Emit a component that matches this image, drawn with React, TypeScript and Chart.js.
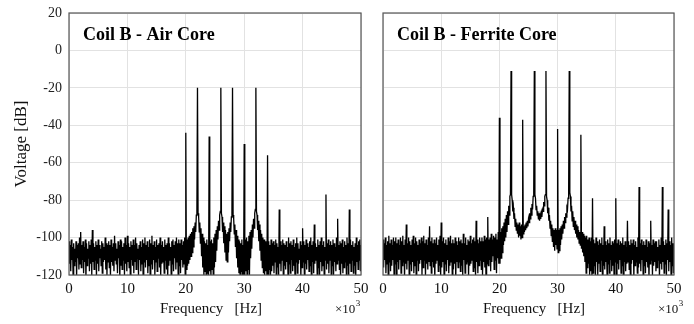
import React, { useEffect, useRef } from "react";
import { Chart, registerables } from "chart.js";

Chart.register(...registerables);

// ---- data -------------------------------------------------------------
// Spectrum samples every 0.1 kHz from 0 to 50 kHz (values in dB); one row = 1 kHz
const FREQ_START_KHZ = 0;
const FREQ_STEP_KHZ = 0.1;

const X_TICKS = [0, 10, 20, 30, 40, 50];
const Y_TICKS = [-120, -100, -80, -60, -40, -20, 0, 20];

const AIR_CORE_DB = [
  -102, -114, -104, -118, -101, -112, -105, -120, -103, -115, // 0
  -106, -113, -102, -121, -104, -111, -103, -117, -100, -114, // 1
  -97, -116, -104, -112, -102, -119, -105, -113, -101, -122, // 2
  -103, -115, -106, -111, -102, -118, -104, -114, -101, -120, // 3
  -96, -113, -103, -117, -105, -112, -102, -121, -104, -114, // 4
  -101, -118, -104, -111, -106, -115, -102, -119, -103, -113, // 5
  -105, -112, -100, -117, -103, -120, -104, -113, -102, -116, // 6
  -104, -121, -101, -113, -105, -115, -103, -118, -99, -112, // 7
  -103, -114, -106, -119, -102, -111, -104, -122, -101, -115, // 8
  -102, -117, -105, -112, -103, -120, -100, -114, -104, -118, // 9
  -99, -113, -103, -116, -105, -121, -102, -112, -104, -115, // 10
  -101, -119, -104, -113, -100, -117, -103, -111, -106, -120, // 11
  -104, -112, -102, -118, -105, -114, -101, -122, -103, -113, // 12
  -100, -116, -104, -112, -102, -119, -105, -115, -101, -121, // 13
  -103, -114, -99, -117, -104, -112, -102, -120, -105, -113, // 14
  -101, -118, -104, -111, -103, -116, -100, -121, -104, -114, // 15
  -102, -113, -105, -119, -101, -112, -104, -117, -103, -122, // 16
  -100, -115, -103, -112, -105, -120, -102, -114, -101, -118, // 17
  -104, -111, -102, -117, -100, -113, -103, -121, -101, -115, // 18
  -103, -119, -101, -112, -104, -116, -102, -114, -100, -120, // 19
  -44, -117, -101, -115, -100, -114, -99, -112, -98, -110, // 20
  -97, -108, -95, -105, -94, -101, -92, -97, -88, -86, // 21
  -20, -87, -89, -97, -92, -103, -95, -110, -98, -116, // 22
  -100, -120, -102, -118, -103, -122, -101, -119, -104, -121, // 23
  -46, -118, -102, -122, -101, -117, -103, -120, -100, -116, // 24
  -98, -113, -96, -107, -94, -101, -91, -96, -88, -86, // 25
  -20, -87, -89, -97, -92, -103, -94, -108, -96, -112, // 26
  -98, -113, -97, -108, -95, -102, -92, -97, -89, -87, // 27
  -20, -88, -90, -98, -93, -105, -96, -111, -99, -116, // 28
  -101, -119, -102, -122, -103, -118, -101, -123, -104, -120, // 29
  -50, -121, -101, -118, -100, -123, -102, -117, -99, -120, // 30
  -97, -111, -96, -106, -93, -100, -90, -95, -87, -85, // 31
  -20, -86, -88, -96, -91, -102, -93, -107, -96, -112, // 32
  -98, -116, -100, -119, -101, -121, -102, -118, -103, -122, // 33
  -56, -120, -102, -117, -104, -121, -101, -118, -103, -115, // 34
  -102, -119, -104, -113, -101, -122, -103, -116, -105, -120, // 35
  -85, -114, -102, -118, -104, -112, -101, -121, -103, -115, // 36
  -104, -117, -102, -113, -105, -120, -100, -114, -103, -119, // 37
  -102, -112, -104, -118, -101, -115, -105, -122, -103, -113, // 38
  -100, -119, -103, -114, -106, -112, -102, -121, -104, -116, // 39
  -95, -113, -102, -120, -104, -114, -101, -117, -103, -112, // 40
  -105, -118, -102, -115, -100, -121, -104, -113, -102, -119, // 41
  -93, -114, -103, -112, -105, -120, -101, -116, -104, -122, // 42
  -102, -113, -100, -118, -104, -115, -102, -121, -105, -112, // 43
  -77, -117, -103, -114, -101, -119, -104, -112, -102, -120, // 44
  -104, -115, -101, -121, -103, -113, -105, -118, -100, -114, // 45
  -90, -112, -104, -117, -102, -122, -103, -114, -101, -119, // 46
  -105, -116, -102, -113, -104, -120, -100, -115, -103, -121, // 47
  -85, -114, -101, -118, -104, -112, -102, -119, -105, -115, // 48
  -103, -121, -100, -113, -104, -117, -102, -112, -101, -118, // 49
  -104, // 50
];

const FERRITE_CORE_DB = [
  -101, -116, -103, -112, -100, -119, -104, -114, -102, -121, // 0
  -99, -113, -103, -118, -101, -115, -104, -112, -100, -120, // 1
  -102, -114, -100, -121, -103, -113, -101, -117, -104, -112, // 2
  -100, -119, -102, -115, -99, -113, -104, -122, -101, -114, // 3
  -93, -117, -103, -112, -100, -120, -102, -114, -104, -118, // 4
  -101, -113, -99, -119, -103, -115, -100, -121, -102, -112, // 5
  -104, -118, -101, -114, -103, -112, -100, -120, -102, -116, // 6
  -99, -112, -103, -121, -101, -114, -104, -117, -100, -113, // 7
  -94, -115, -102, -119, -100, -113, -103, -116, -101, -122, // 8
  -103, -114, -100, -112, -104, -118, -101, -115, -99, -120, // 9
  -92, -116, -102, -113, -100, -121, -103, -114, -101, -118, // 10
  -104, -112, -100, -119, -102, -115, -99, -113, -103, -120, // 11
  -101, -117, -103, -114, -100, -122, -102, -113, -104, -116, // 12
  -100, -113, -102, -118, -101, -115, -103, -120, -98, -112, // 13
  -103, -119, -100, -114, -104, -113, -101, -121, -102, -115, // 14
  -99, -114, -103, -112, -101, -118, -100, -116, -102, -121, // 15
  -91, -113, -101, -119, -103, -115, -100, -112, -102, -117, // 16
  -100, -120, -102, -113, -99, -116, -101, -122, -100, -114, // 17
  -89, -115, -101, -112, -100, -118, -98, -113, -101, -110, // 18
  -99, -117, -100, -112, -98, -119, -101, -111, -97, -114, // 19
  -36, -114, -97, -111, -95, -108, -94, -104, -92, -102, // 20
  -90, -100, -88, -97, -86, -93, -83, -88, -78, -77, // 21
  -11, -77, -80, -86, -84, -90, -87, -94, -90, -96, // 22
  -92, -98, -93, -100, -92, -99, -94, -101, -93, -100, // 23
  -37, -98, -94, -97, -93, -96, -92, -95, -91, -94, // 24
  -90, -92, -87, -90, -84, -88, -82, -85, -78, -76, // 25
  -11, -77, -79, -85, -83, -88, -86, -90, -87, -91, // 26
  -88, -90, -87, -89, -85, -86, -81, -83, -78, -77, // 27
  -11, -78, -80, -87, -84, -91, -88, -95, -91, -99, // 28
  -93, -102, -95, -105, -96, -107, -95, -104, -96, -106, // 29
  -42, -108, -96, -107, -95, -104, -94, -101, -93, -98, // 30
  -91, -95, -89, -92, -87, -89, -84, -85, -79, -75, // 31
  -11, -76, -78, -86, -83, -91, -86, -94, -89, -96, // 32
  -91, -98, -93, -100, -94, -101, -96, -103, -97, -104, // 33
  -45, -106, -97, -108, -98, -110, -99, -113, -100, -119, // 34
  -99, -116, -101, -114, -100, -120, -102, -118, -100, -121, // 35
  -79, -119, -101, -115, -103, -121, -100, -113, -102, -120, // 36
  -104, -114, -101, -118, -103, -112, -100, -121, -104, -115, // 37
  -94, -117, -102, -113, -104, -120, -101, -114, -103, -119, // 38
  -100, -112, -104, -118, -102, -115, -103, -121, -101, -113, // 39
  -79, -120, -103, -114, -101, -117, -104, -112, -102, -119, // 40
  -103, -115, -100, -121, -104, -113, -102, -118, -105, -114, // 41
  -91, -113, -102, -117, -104, -120, -101, -114, -103, -112, // 42
  -101, -121, -104, -115, -102, -113, -105, -119, -100, -116, // 43
  -73, -114, -103, -118, -101, -112, -104, -120, -102, -115, // 44
  -104, -119, -101, -113, -105, -116, -102, -122, -103, -114, // 45
  -91, -112, -104, -120, -101, -115, -103, -113, -102, -118, // 46
  -102, -116, -105, -112, -101, -121, -104, -114, -100, -117, // 47
  -73, -113, -102, -119, -104, -114, -101, -120, -103, -112, // 48
  -85, -118, -102, -113, -104, -121, -100, -115, -103, -119, // 49
  -103, // 50
];

const PANEL_TITLES = ["Coil B - Air Core", "Coil B - Ferrite Core"];
const X_AXIS_TITLE = "Frequency   [Hz]";
const Y_AXIS_TITLE = "Voltage [dB]";

// ---- component ---------------------------------------------------------
const FONT = "'Liberation Serif', 'Times New Roman', serif";
const CANVAS_H = 324;

type PanelProps = {
  values: number[];
  title: string;
  showY: boolean;
  left: number;
  width: number;
  areaLeft: number;
  areaRight: number;
  xTitleOffset: number;
  expOffset: number;
};

function SpectrumPanel(p: PanelProps) {
  const ref = useRef<HTMLCanvasElement | null>(null);
  useEffect(() => {
    if (!ref.current) return;
    const points = p.values.map((v, i) => ({ x: FREQ_START_KHZ + i * FREQ_STEP_KHZ, y: v }));
    const overlay = {
      id: "overlay",
      afterDraw(chart: any) {
        const { ctx, chartArea: a } = chart;
        ctx.save();
        ctx.strokeStyle = "#555";
        ctx.lineWidth = 1.2;
        ctx.strokeRect(a.left, a.top, a.right - a.left, a.bottom - a.top);
        ctx.fillStyle = "#000";
        ctx.font = `bold 18px ${FONT}`;
        ctx.textAlign = "left";
        ctx.textBaseline = "alphabetic";
        ctx.fillText(p.title, a.left + 14, a.top + 27);
        ctx.font = `15px ${FONT}`;
        ctx.fillStyle = "#111";
        ctx.fillText(X_AXIS_TITLE, a.left + p.xTitleOffset, 313);
        ctx.font = `13px ${FONT}`;
        const ex = a.right + p.expOffset;
        ctx.fillText("\u00d710", ex, 313);
        const w = ctx.measureText("\u00d710").width;
        ctx.font = `9px ${FONT}`;
        ctx.fillText("3", ex + w + 0.5, 306);
        if (p.showY) {
          ctx.font = `17px ${FONT}`;
          ctx.translate(22, (a.top + a.bottom) / 2);
          ctx.rotate(-Math.PI / 2);
          ctx.textAlign = "center";
          ctx.textBaseline = "middle";
          ctx.fillText(Y_AXIS_TITLE, 0, 0);
        }
        ctx.restore();
      },
    };
    const chart = new Chart(ref.current, {
      type: "line",
      data: {
        datasets: [
          {
            data: points,
            borderColor: "#000",
            borderWidth: 1.3,
            pointRadius: 0,
            tension: 0,
            fill: false,
          },
        ],
      },
      options: {
        responsive: false,
        animation: false,
        devicePixelRatio: 1,
        events: [],
        layout: { padding: { left: 0, right: p.width - p.areaRight, top: 13, bottom: 0 } },
        plugins: { legend: { display: false }, tooltip: { enabled: false }, title: { display: false } },
        scales: {
          x: {
            type: "linear",
            min: 0,
            max: 50,
            afterBuildTicks: (s: any) => {
              s.ticks = X_TICKS.map((v) => ({ value: v }));
            },
            ticks: {
              font: { family: FONT, size: 15 },
              color: "#111",
              padding: 5,
              maxRotation: 0,
              autoSkip: false,
            },
            grid: { color: "#e2e2e2", drawTicks: false, lineWidth: 1 },
            border: { display: false },
            afterFit: (s: any) => {
              s.height = 49;
              s.paddingLeft = 0;
              s.paddingRight = 0;
            },
          },
          y: {
            type: "linear",
            min: -120,
            max: 20,
            afterBuildTicks: (s: any) => {
              s.ticks = Y_TICKS.map((v) => ({ value: v }));
            },
            ticks: {
              display: p.showY,
              font: { family: FONT, size: 14 },
              color: "#222",
              padding: 7,
            },
            grid: { color: "#e2e2e2", drawTicks: false, lineWidth: 1 },
            border: { display: false },
            afterFit: (s: any) => {
              s.width = p.areaLeft;
              s.paddingTop = 0;
              s.paddingBottom = 0;
            },
          },
        },
      },
      plugins: [overlay],
    } as any);
    return () => chart.destroy();
  }, []);
  return (
    <canvas
      ref={ref}
      width={p.width}
      height={CANVAS_H}
      style={{ position: "absolute", left: p.left, top: 0, width: p.width, height: CANVAS_H }}
    />
  );
}

export default function App() {
  return (
    <div style={{ position: "absolute", left: 0, top: 0, width: 694, height: 324, background: "#fff" }}>
      <SpectrumPanel
        values={AIR_CORE_DB}
        title={PANEL_TITLES[0]}
        showY={true}
        left={0}
        width={370}
        areaLeft={69}
        areaRight={361}
        xTitleOffset={91}
        expOffset={-26}
      />
      <SpectrumPanel
        values={FERRITE_CORE_DB}
        title={PANEL_TITLES[1]}
        showY={false}
        left={370}
        width={324}
        areaLeft={13}
        areaRight={304}
        xTitleOffset={100}
        expOffset={-16}
      />
    </div>
  );
}
